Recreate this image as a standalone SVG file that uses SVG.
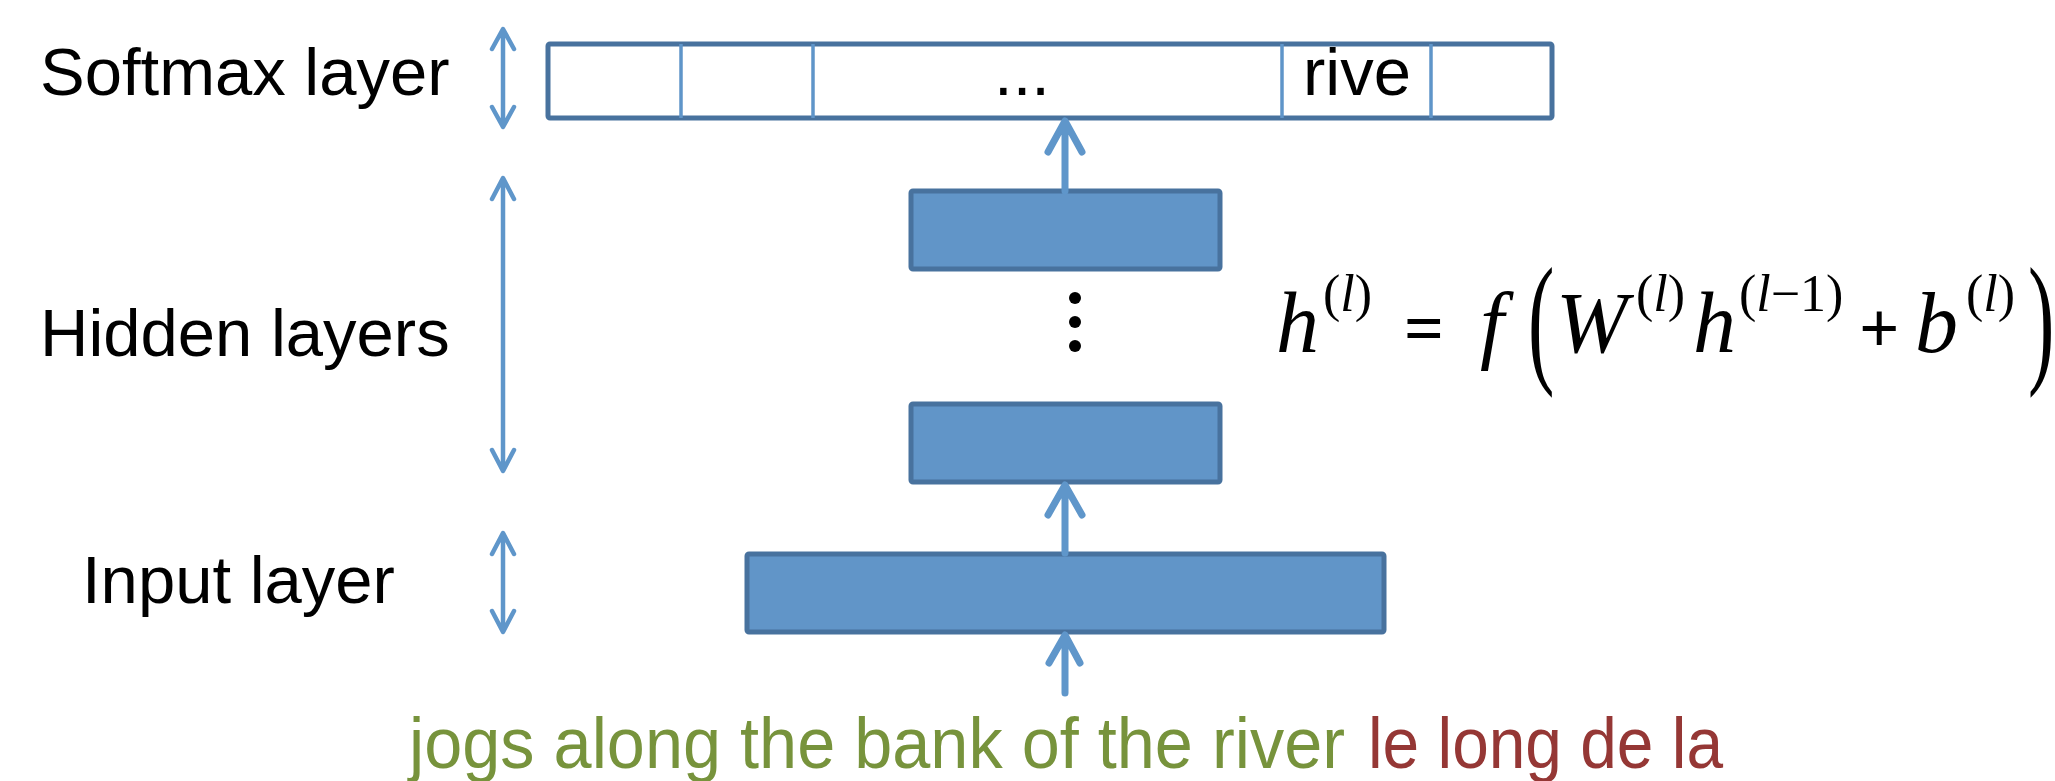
<svg xmlns="http://www.w3.org/2000/svg" width="2055" height="781" viewBox="0 0 2055 781">
<style>
.lbl{font-family:"Liberation Sans",Arial,sans-serif;font-size:67px;fill:#000}
.box{fill:#6195c8;stroke:#48729e;stroke-width:5}
.sm{fill:#fff;stroke:#48729e;stroke-width:5}
.div{stroke:#5f95c9;stroke-width:3.5}
.arr{fill:none;stroke:#5f96ca;stroke-linecap:round;stroke-linejoin:round}
.big{stroke-width:7}
.small{stroke-width:4.5}
.m{font-family:"Liberation Serif","Times New Roman",serif;fill:#000}
.i{font-style:italic}
.main{font-size:86px}
.sup{font-size:52px}
.bottom{font-family:"Liberation Sans",Arial,sans-serif;font-size:72px}
</style>
<g id="labels">
<text class="lbl" x="40" y="95">Softmax layer</text>
<text class="lbl" x="40" y="356">Hidden layers</text>
<text class="lbl" x="82" y="603">Input layer</text>
</g>
<g id="softmax">
<rect class="sm" x="548" y="44" width="1004" height="74" rx="2"/>
<line class="div" x1="681" y1="44" x2="681" y2="118"/>
<line class="div" x1="813" y1="44" x2="813" y2="118"/>
<line class="div" x1="1282" y1="44" x2="1282" y2="118"/>
<line class="div" x1="1431" y1="44" x2="1431" y2="118"/>
<text class="lbl" x="1022" y="95" text-anchor="middle">...</text>
<text class="lbl" x="1303" y="95">rive</text>
</g>
<g id="hidden1"><rect class="box" x="911" y="191" width="309" height="78" rx="2"/></g>
<g id="dots">
<circle cx="1075" cy="298" r="6"/>
<circle cx="1075" cy="322" r="6"/>
<circle cx="1075" cy="346" r="6"/>
</g>
<g id="hidden2"><rect class="box" x="911" y="404" width="309" height="78" rx="2"/></g>
<g id="input"><rect class="box" x="747" y="554" width="637" height="78" rx="2"/></g>
<g id="connectors">
<path class="arr big" d="M1065 191V122M1048 152L1065 121L1082 152"/>
<path class="arr big" d="M1065 553V486M1048 515L1065 485L1082 515"/>
<path class="arr big" d="M1065 693V636M1049 663L1065 635L1080 663"/>
<path class="arr small" d="M503 30V126M492 49L503 29L514 49M492 107L503 127L514 107"/>
<path class="arr small" d="M503 179V470M492 199L503 178L514 199M492 450L503 471L514 450"/>
<path class="arr small" d="M503 534V631M492 554L503 533L514 554M492 611L503 632L514 611"/>
</g>
<g id="formula">
<text class="m i main" x="1276" y="352">h</text>
<text class="m sup" x="1323" y="311">(<tspan class="i">l</tspan>)</text>
<text class="m" x="1404" y="352" font-size="70" font-weight="bold">=</text>
<text class="m i main" x="1480" y="352">f</text>
<text class="m" x="0" y="0" font-size="144" transform="translate(1528 367) scale(0.55 1)">(</text>
<text class="m i main" x="1556" y="352">W</text>
<text class="m sup" x="1636" y="311">(<tspan class="i">l</tspan>)</text>
<text class="m i main" x="1693" y="352">h</text>
<text class="m sup" x="1739" y="311">(<tspan class="i">l</tspan>−1)</text>
<text class="m" x="1859" y="352" font-size="71" font-weight="bold">+</text>
<text class="m i main" x="1915" y="352">b</text>
<text class="m sup" x="1966" y="311">(<tspan class="i">l</tspan>)</text>
<text class="m" x="0" y="0" font-size="144" transform="translate(2028 367) scale(0.55 1)">)</text>
</g>
<g id="sentence">
<text class="bottom" x="409" y="768" fill="#77933c" textLength="936" lengthAdjust="spacingAndGlyphs">jogs along the bank of the river</text>
<text class="bottom" x="1368" y="768" fill="#953735" textLength="355" lengthAdjust="spacingAndGlyphs">le long de la</text>
</g>
</svg>
